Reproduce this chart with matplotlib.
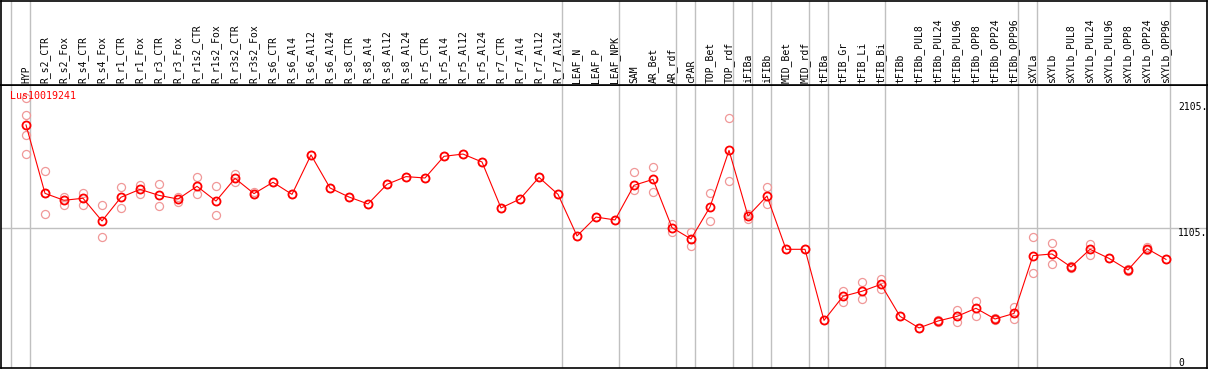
import matplotlib.pyplot as plt

samples = ["HYP", "R_s2_CTR", "R_s2_Fox", "R_s4_CTR", "R_s4_Fox", "R_r1_CTR", "R_r1_Fox",
           "R_r3_CTR", "R_r3_Fox", "R_r1s2_CTR", "R_r1s2_Fox", "R_r3s2_CTR", "R_r3s2_Fox",
           "R_s6_CTR", "R_s6_Al4", "R_s6_Al12", "R_s6_Al24", "R_s8_CTR", "R_s8_Al4",
           "R_s8_Al12", "R_s8_Al24", "R_r5_CTR", "R_r5_Al4", "R_r5_Al12", "R_r5_Al24",
           "R_r7_CTR", "R_r7_Al4", "R_r7_Al12", "R_r7_Al24", "LEAF_N", "LEAF_P", "LEAF_NPK",
           "SAM", "AR_Bet", "AR_rdf", "cPAR", "TOP_Bet", "TOP_rdf", "iFIBa", "iFIBb",
           "MID_Bet", "MID_rdf", "tFIBa", "tFIB_Gr", "tFIB_Li", "tFIB_Bi", "tFIBb",
           "tFIBb_PUL8", "tFIBb_PUL24", "tFIBb_PUL96", "tFIBb_OPP8", "tFIBb_OPP24",
           "tFIBb_OPP96", "sXYLa", "sXYLb", "sXYLb_PUL8", "sXYLb_PUL24", "sXYLb_PUL96",
           "sXYLb_OPP8", "sXYLb_OPP24", "sXYLb_OPP96"]

means = [1921, 1378, 1323, 1339, 1159, 1347, 1410, 1362, 1333, 1434, 1317, 1497, 1376,
         1466, 1370, 1683, 1421, 1349, 1294, 1450, 1511, 1500, 1672, 1690, 1627,
         1262, 1333, 1505, 1370, 1040, 1190, 1167,
         1442, 1489, 1106, 1016, 1270, 1719, 1198, 1357,
         934, 934, 370, 561, 601, 656, 402,
         310, 365, 402, 466, 381, 425,
         884, 897, 794, 934, 862, 770, 939, 854]

reps = [[2132, 1998, 1839, 1688], [1556, 1212, 1378], [1352, 1283], [1384, 1289],
        [1283, 1032], [1426, 1260], [1447, 1376], [1450, 1275], [1352, 1312],
        [1505, 1370], [1434, 1204], [1534, 1468], [1390, 1370],
        [1466], [1370], [1683], [1421], [1349], [1294], [1450], [1511], [1500],
        [1672], [1690], [1627], [1262], [1333], [1505], [1370], [1040], [1190], [1167],
        [1548, 1405], [1585, 1389], [1135, 1074], [1071, 960], [1381, 1159],
        [1973, 1473], [1214, 1177], [1426, 1291],
        [934], [934], [370], [606, 519], [675, 542], [698, 616], [402],
        [310], [356, 375], [452, 354], [524, 407], [372, 390], [476, 383],
        [1029, 749], [982, 815], [788, 800], [976, 886], [862], [765, 776], [952, 925], [854]]

gene = "Lus10019241"
group_starts = [1, 2, 30, 33, 36, 37, 39, 40, 41, 43, 44, 47, 54, 55, 62]
y_labels = [2105, 1105, 0]

W, H = 1209, 370
fig = plt.figure(figsize=(W / 100, H / 100), dpi=100)
ax = fig.add_axes([1 / W, 2 / H, 1206 / W, 283 / H])
top = fig.add_axes([1 / W, 285 / H, 1206 / W, 84.5 / H], sharex=ax)

xs = list(range(1, len(samples) + 1))
x0, x1 = 1 + (1 - 26) / 19, 1 + (1207 - 26) / 19
ax.set_xlim(x0, x1)
ax.set_ylim(-8, 2238)
top.set_ylim(0, 1)

for a in (ax, top):
    a.set_xticks([])
    a.set_yticks([])
    for s in a.spines.values():
        s.set_color("black")
        s.set_linewidth(1.2)
    for g in group_starts:
        a.axvline(g - 15 / 19, color="#c0c0c0", lw=1.0, zorder=0)

ax.axhline(1105, color="#c0c0c0", lw=1.0, zorder=0)

# replicate points
for x, r in zip(xs, reps):
    ax.plot([x] * len(r), r, "o", ms=5.8, mfc="none", mec="#f09898", mew=0.9, zorder=2)

ax.plot(xs, means, "-o", color="red", lw=0.8, ms=5.8, mfc="none", mec="red", mew=1.3, zorder=3)

ax.text(x0 + 0.48, 2190, gene, color="red", fontsize=7.2, family="DejaVu Sans Mono",
        va="top", ha="left")

lx = 1 + (1178 - 26) / 19
for v in y_labels:
    ax.text(lx, max(v, 71), str(v) + ("." if v else ""), fontsize=7, family="DejaVu Sans Mono",
            va="top", ha="left")

for x, name in zip(xs, samples):
    top.text(x, 0.02, name, rotation=90, fontsize=7, family="DejaVu Sans Mono",
             ha="center", va="bottom")

fig.savefig("out.png", dpi=100)
